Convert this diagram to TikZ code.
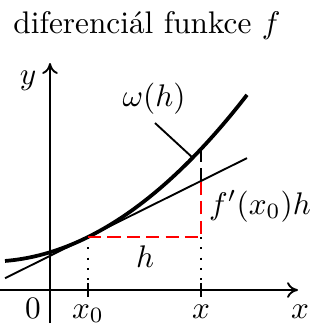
\documentclass[tikz,border=0pt]{standalone}
\usetikzlibrary{arrows.meta}
\begin{document}
\begin{tikzpicture}[x=0.32pt,y=-0.32pt,
  axis/.style={line width=0.6pt,-{To[length=3.5pt,width=5pt]}},
  tickline/.style={line width=0.6pt},
  curveline/.style={line width=1.2pt},
  tangentline/.style={line width=0.6pt},
  reddash/.style={red,line width=0.7pt,dash pattern=on 4.2pt off 2pt},
  blackdash/.style={line width=0.6pt,dash pattern=on 4.2pt off 2pt},
  dotline/.style={line width=0.6pt,dash pattern=on 0.6pt off 2.7pt},
  pointer/.style={line width=0.6pt},
  lbl/.style={inner sep=0pt,anchor=base}]
\useasboundingbox (0,0) rectangle (325,323);
% coordinates
\coordinate (ybot) at (50,323);
\coordinate (ytop) at (50,63);
\coordinate (xleft) at (0,290);
\coordinate (xright) at (298,290);
\coordinate (P) at (88,237);
\coordinate (Q) at (201,237);
\coordinate (T) at (201,181);
\coordinate (C) at (201,149);
\coordinate (tanA) at (5,278.2);
\coordinate (tanB) at (247,158.1);
\coordinate (x0top) at (88,283);
\coordinate (x0bot) at (88,297);
\coordinate (xtop) at (201,283);
\coordinate (xbot) at (201,297);
\coordinate (pA) at (155,123);
\coordinate (pB) at (193,158);
% title
\node[lbl] (title) at (147,33) {diferenciál funkce $f$};
% axes
\draw[axis] (ybot) -- (ytop);
\draw[axis] (xleft) -- (xright);
\draw[tickline] (x0top) -- (x0bot);
\draw[tickline] (xtop) -- (xbot);
% dotted guides
\draw[dotline] (P) -- (x0top);
\draw[dotline] (Q) -- (xtop);
% tangent
\draw[tangentline] (tanA) -- (tanB);
% curve
\draw[curveline] plot[domain=5:247,samples=80] (\x,{237-0.496*(\x-88)-0.002506*(\x-88)*(\x-88)});
% dashed
\draw[reddash] (P) -- (Q) -- (T);
\draw[blackdash] (C) -- (T);
% pointer
\draw[pointer] (pA) -- (pB);
% labels
\node[lbl] (ylab) at (28,84) {$y$};
\node[lbl] (zero) at (33,318) {$0$};
\node[lbl] (x0lab) at (88,318) {$x_0$};
\node[lbl] (xlab) at (201,318) {$x$};
\node[lbl] (xaxlab) at (300,318) {$x$};
\node[lbl] (omega) at (154,106) {$\omega(h)$};
\node[lbl] (fprime) at (260,214) {$f'(x_0)h$};
\node[lbl] (hlab) at (145,267) {$h$};
\end{tikzpicture}
\end{document}
